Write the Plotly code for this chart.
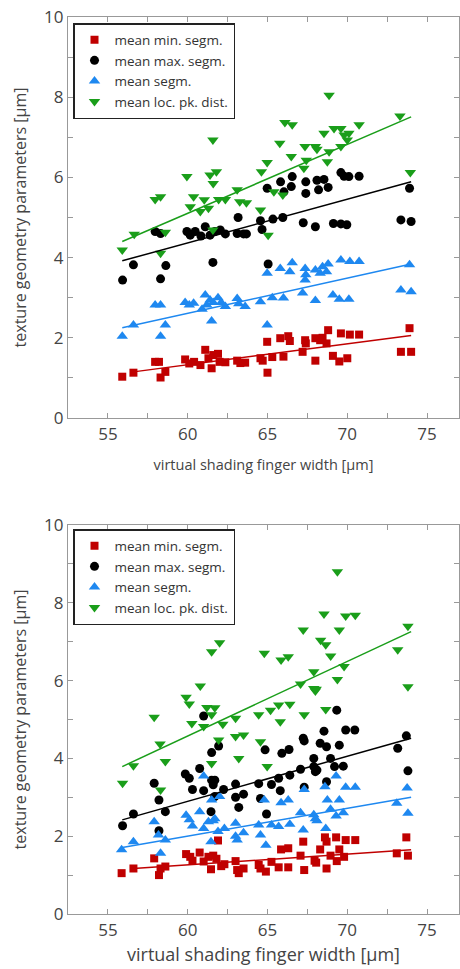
import plotly.graph_objects as go

# ---------------- data ----------------
series_names = ["mean min. segm.", "mean max. segm.", "mean segm.", "mean loc. pk. dist."]

top_min = [(55.9,1.03),(56.6,1.13),(57.96,1.40),(58.2,1.40),(58.3,1.01),(58.6,1.15),(59.84,1.46),(60.1,1.36),
           (60.4,1.40),(60.8,1.32),(61.1,1.70),(61.3,1.49),(61.5,1.24),(61.6,1.57),(61.9,1.60),(62.0,1.40),
           (62.36,1.39),(63.1,1.43),(63.3,1.37),(63.6,1.38),(64.56,1.49),(64.7,1.43),(64.98,1.90),(65.0,1.13),
           (65.3,1.52),(65.8,1.99),(66.0,1.53),(66.3,2.04),(66.4,1.92),(67.2,1.65),(67.36,1.94),(67.4,1.86),
           (68.0,1.43),(68.0,1.99),(68.3,1.94),(68.45,2.00),(68.7,1.86),(68.8,2.19),(69.1,1.55),(69.5,1.41),
           (69.6,2.11),(70.0,1.49),(70.16,2.08),(70.74,2.08),(73.36,1.65),(73.9,2.24),(74.0,1.65)]
top_max = [(55.92,3.44),(56.6,3.82),(57.96,4.65),(58.3,4.6),(58.3,3.47),(58.63,3.8),(59.95,4.65),(60.16,4.56),
           (60.47,4.65),(60.83,4.54),(61.1,4.77),(61.4,4.56),(61.58,3.88),(61.7,4.65),(62.04,4.69),(62.36,4.59),
           (63.1,4.6),(63.16,5.0),(63.5,4.59),(63.68,4.59),(64.56,4.92),(64.66,4.7),(64.98,5.73),(65.04,3.84),
           (65.34,4.96),(65.82,5.89),(65.96,5.0),(66.03,5.64),(66.55,6.02),(66.49,5.77),(67.24,4.87),(67.4,5.89),
           (67.4,5.6),(68.0,4.77),(68.1,5.93),(68.2,5.69),(68.54,5.95),(68.8,5.75),(69.13,4.85),(69.6,6.12),
           (69.6,4.84),(69.97,4.82),(69.8,6.03),(70.1,6.02),(70.74,6.03),(73.36,4.94),(74.0,4.9),(73.9,5.73)]
top_seg = [(55.9,2.04),(56.6,2.32),(57.96,2.82),(58.3,2.82),(58.3,2.04),(58.6,2.32),(59.84,2.88),(60.1,2.82),
           (60.37,2.86),(60.9,2.71),(61.1,3.07),(61.2,2.82),(61.4,2.94),(61.5,2.42),(61.6,2.88),(61.9,3.0),
           (62.1,2.88),(62.36,2.78),(63.1,2.98),(63.2,2.85),(63.6,2.78),(64.56,2.9),(64.98,3.61),(64.98,2.32),
           (65.3,3.0),(65.8,3.73),(66.0,2.99),(66.4,3.65),(66.55,3.87),(67.2,3.12),(67.36,3.73),(67.4,3.57),
           (67.36,3.44),(68.0,3.69),(68.0,2.93),(68.3,3.61),(68.45,3.77),(68.7,3.65),(68.8,3.84),(69.1,3.07),
           (69.6,3.94),(69.5,2.96),(70.16,3.9),(70.1,2.96),(70.74,3.9),(73.36,3.19),(73.9,3.82),(74.0,3.15)]
top_pk = [(55.9,4.19),(56.65,4.58),(57.96,5.45),(58.3,5.52),(58.6,4.63),(58.3,4.11),(59.95,6.02),(60.16,5.27),
          (60.37,5.52),(60.79,5.15),(61.04,5.44),(61.3,5.23),(61.4,6.06),(61.6,5.85),(61.8,6.14),(61.58,6.93),
          (61.58,4.69),(61.94,5.45),(62.36,5.45),(63.1,5.69),(63.26,5.39),(63.68,5.37),(64.56,5.19),(64.62,6.14),
          (64.98,6.37),(65.04,4.56),(65.4,5.64),(65.96,5.56),(65.77,6.85),(66.09,7.37),(66.55,7.31),(66.49,6.52),
          (67.35,6.77),(67.43,6.43),(67.28,6.23),(68.0,6.77),(68.1,6.7),(68.54,7.1),(68.75,6.39),(68.86,6.64),
          (69.17,7.22),(69.6,7.22),(69.6,6.77),(69.8,7.06),(70.1,7.1),(70.0,6.93),(70.74,7.31),(73.3,7.53),
          (73.95,6.12),(68.86,8.05)]

bot_min = [(55.86,1.05),(56.6,1.17),(57.9,1.43),(58.2,1.0),(58.3,1.17),(58.6,1.22),(59.9,1.54),(60.16,1.47),
           (60.3,1.37),(60.75,1.58),(61.0,1.35),(61.3,1.47),(61.46,1.15),(61.6,1.5),(61.8,1.42),(61.9,1.89),
           (62.1,1.23),(62.3,1.28),(63.0,1.36),(63.1,1.13),(63.2,1.05),(63.5,1.17),(64.45,1.26),(64.56,1.17),
           (64.9,1.09),(65.25,1.34),(65.7,1.2),(65.85,1.66),(66.3,1.69),(66.3,1.2),(67.07,1.5),(67.24,1.86),
           (67.3,1.13),(67.95,1.37),(68.05,1.32),(68.3,1.66),(68.6,1.97),(68.7,1.86),(68.7,1.17),(68.95,1.5),
           (69.3,1.97),(69.34,1.36),(69.5,1.66),(69.8,1.47),(69.9,1.9),(70.5,1.9),(73.1,1.56),(73.7,1.97),(73.8,1.5)]
bot_max = [(55.92,2.27),(56.6,2.57),(57.9,3.36),(58.2,2.93),(58.2,2.14),(58.6,2.63),(59.85,3.6),(60.1,3.49),
           (60.3,3.2),(60.75,3.74),(61.0,5.09),(61.0,3.17),(61.46,2.63),(61.5,4.15),(61.5,3.44),(61.7,3.44),
           (61.6,3.32),(61.7,3.02),(61.94,4.32),(62.25,3.2),(63.0,3.34),(63.0,3.0),(63.2,2.74),(63.5,3.08),
           (64.45,3.35),(64.56,2.97),(64.85,4.22),(64.94,2.57),(65.25,3.33),(65.7,3.49),(65.8,3.17),(65.9,4.13),
           (66.35,4.23),(66.4,3.57),(67.07,3.72),(67.24,4.52),(67.3,4.45),(67.3,3.26),(67.9,4.0),(67.9,3.79),
           (68.0,3.66),(68.1,3.7),(68.3,4.39),(68.54,4.7),(68.7,4.3),(68.7,3.4),(68.95,4.0),(69.2,3.79),
           (69.34,5.24),(69.5,4.34),(69.75,3.8),(69.9,4.73),(70.47,4.73),(73.16,4.26),(73.7,4.58),(73.8,3.68)]
bot_seg = [(55.86,1.65),(56.6,1.86),(57.9,2.37),(58.17,2.03),(58.3,1.56),(58.6,1.9),(59.9,2.54),(60.1,2.42),
           (60.3,2.26),(60.75,2.63),(61.0,3.55),(61.0,2.2),(61.3,2.37),(61.46,1.86),(61.5,2.93),(61.6,2.4),
           (61.7,2.45),(61.9,2.12),(62.0,3.02),(62.3,2.2),(63.0,2.33),(63.0,2.0),(63.1,1.9),(63.5,2.09),
           (64.45,2.29),(64.56,2.03),(64.8,2.93),(64.9,1.77),(65.25,2.29),(65.7,2.25),(65.85,2.86),(66.3,2.93),
           (66.4,2.31),(67.07,2.6),(67.24,2.16),(67.3,3.2),(67.9,2.55),(68.0,2.45),(68.1,2.4),(68.6,3.27),
           (68.65,2.2),(68.75,2.93),(68.95,2.69),(69.3,3.55),(69.3,2.52),(69.5,2.93),(69.75,2.6),(69.9,3.26),
           (70.5,3.26),(73.1,2.85),(73.75,3.24),(73.8,2.59)]
bot_pk = [(55.92,3.36),(56.6,3.81),(57.9,5.06),(58.27,4.37),(58.6,3.92),(58.3,3.19),(59.9,5.57),(60.1,5.4),
          (60.26,4.9),(60.79,5.86),(61.0,4.82),(61.2,5.31),(61.5,6.74),(61.5,3.87),(61.5,5.12),(61.7,5.3),
          (61.94,4.47),(62.0,6.97),(62.2,4.88),(63.0,5.03),(63.0,4.56),(63.2,4.0),(63.5,4.6),(64.45,5.12),
          (64.56,4.43),(64.8,6.7),(64.98,3.79),(65.19,5.24),(65.7,5.37),(65.8,4.94),(65.85,6.53),(66.3,6.61),
          (66.4,5.39),(67.07,5.91),(67.24,7.3),(67.3,5.12),(67.9,6.23),(67.9,5.8),(68.0,5.73),(68.05,5.78),
          (68.33,7.04),(68.65,6.92),(68.65,5.26),(68.96,6.63),(69.38,6.03),(69.5,7.3),(69.8,6.36),(73.16,6.79),
          (73.8,7.4),(73.8,5.84),(69.38,8.8),(68.54,7.71),(69.9,7.66),(70.5,7.68)]

# fitted trend lines (end points)
fit_x = [55.9, 74.0]
fit_x_min = [56.6, 74.0]
top_fit = {"min": [1.15, 2.06], "max": [3.92, 5.89], "seg": [2.25, 3.84], "pk": [4.40, 7.51]}
bot_fit = {"min": [1.17, 1.65], "max": [2.42, 4.52], "seg": [1.71, 3.00], "pk": [3.79, 7.26]}

x_ticks = [55, 60, 65, 70, 75]
y_ticks = [0, 2, 4, 6, 8, 10]

# ---------------- styling ----------------
colors = {"min": "#C00000", "max": "#000000", "seg": "#1E88F0", "pk": "#1A9E1A"}
symbols = {"min": "square", "max": "circle", "seg": "triangle-up", "pk": "triangle-down"}
sizes = {"min": 8, "max": 9, "seg": 10, "pk": 10}
keys = ["min", "max", "seg", "pk"]
FONT = "Open Sans, Noto Sans, sans-serif"

fig = go.Figure()

def add_panel(data, fits, xa, ya, legend):
    for k, name in zip(keys, series_names):
        pts = data[k]
        fig.add_trace(go.Scatter(
            x=[p[0] for p in pts], y=[p[1] for p in pts], mode="markers", name=name,
            marker=dict(symbol=symbols[k], size=sizes[k], color=colors[k], line=dict(width=0)),
            xaxis=xa, yaxis=ya, legend=legend, showlegend=True))
    for k in keys:
        fx = fit_x_min if k == "min" else fit_x
        fig.add_trace(go.Scatter(
            x=fx, y=fits[k], mode="lines", line=dict(color=colors[k], width=1.5),
            xaxis=xa, yaxis=ya, showlegend=False, hoverinfo="skip"))

add_panel({"min": top_min, "max": top_max, "seg": top_seg, "pk": top_pk}, top_fit, "x", "y", "legend")
add_panel({"min": bot_min, "max": bot_max, "seg": bot_seg, "pk": bot_pk}, bot_fit, "x2", "y2", "legend2")

W, H = 460, 969
xdom = [68 / W, 459 / W]
top_dom = [1 - 418 / H, 1 - 17 / H]
bot_dom = [1 - 914 / H, 1 - 525 / H]

def xaxis(anchor, title_size, title_standoff):
    return dict(domain=xdom, anchor=anchor, range=[52.5, 77], tickvals=x_ticks,
                ticks="inside", ticklen=5, tickcolor="#999", showline=True, linecolor="#999",
                linewidth=1.2, mirror="ticks", showgrid=False, zeroline=False,
                minor=dict(dtick=2.5, tick0=52.5, ticks="inside", ticklen=5, tickcolor="#999"),
                tickfont=dict(size=17, color="#444", family=FONT),
                title=dict(text="virtual shading finger width [µm]", standoff=title_standoff,
                           font=dict(size=title_size, color="#444", family=FONT)),
                automargin=False)

def yaxis(anchor, dom):
    return dict(domain=dom, anchor=anchor, range=[0, 10], tickvals=y_ticks,
                ticks="inside", ticklen=5, tickcolor="#999", showline=True, linecolor="#999",
                linewidth=1.2, mirror="ticks", showgrid=False, zeroline=False,
                minor=dict(dtick=1, ticks="inside", ticklen=5, tickcolor="#999"),
                tickfont=dict(size=17, color="#444", family=FONT),
                title=dict(text="texture geometry parameters [µm]", standoff=13,
                           font=dict(size=16, color="#444", family=FONT)),
                automargin=False)

legend_style = dict(x=73 / W, xanchor="left", bgcolor="white", bordercolor="#222", borderwidth=1.5,
                    font=dict(size=13.5, color="#333", family=FONT), tracegroupgap=0,
                    itemclick=False)

fig.update_layout(
    width=W, height=H, margin=dict(l=0, r=0, t=0, b=0),
    paper_bgcolor="white", plot_bgcolor="white",
    xaxis=xaxis("y", 14.5, 16), yaxis=yaxis("x", top_dom),
    xaxis2=xaxis("y2", 18, 8), yaxis2=yaxis("x2", bot_dom),
    legend=dict(y=1 - 23 / H, yanchor="top", **legend_style),
    legend2=dict(y=1 - 529 / H, yanchor="top", **legend_style),
)

fig.write_html("out.html", config={"displayModeBar": False},
               post_script="document.body.style.margin='0';")
